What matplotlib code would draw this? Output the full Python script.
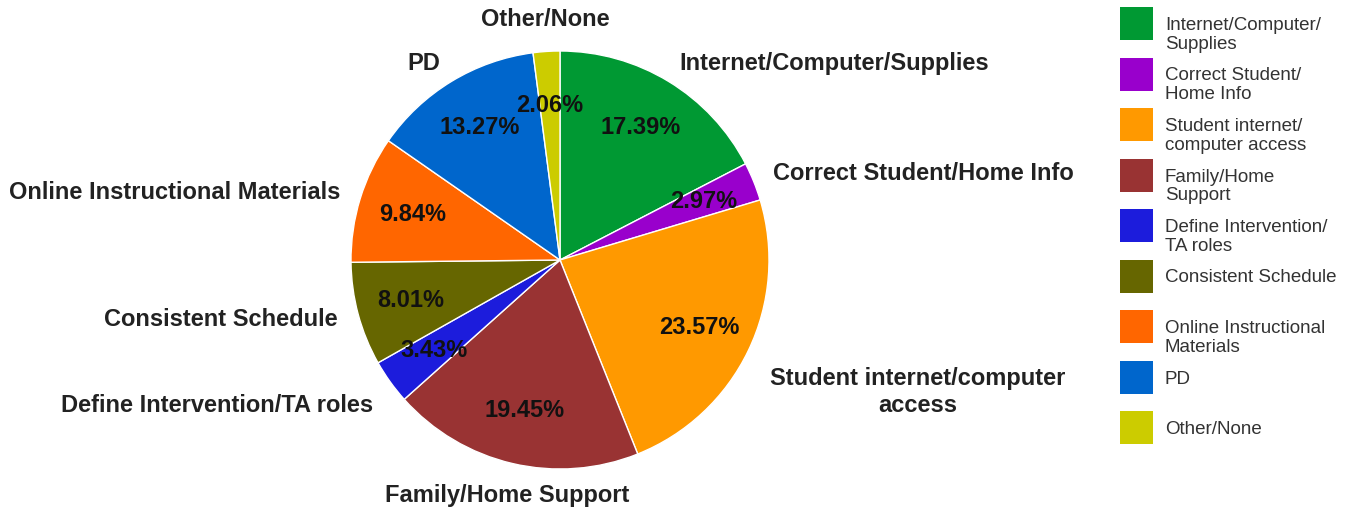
import numpy as np
import matplotlib.pyplot as plt
from matplotlib.patches import Rectangle

# slice data, clockwise from 12 o'clock
categories = ["Internet/Computer/Supplies", "Correct Student/Home Info",
              "Student internet/computer\naccess", "Family/Home Support",
              "Define Intervention/TA roles", "Consistent Schedule",
              "Online Instructional Materials", "PD", "Other/None"]
legend_labels = ["Internet/Computer/\nSupplies", "Correct Student/\nHome Info",
                 "Student internet/\ncomputer access", "Family/Home\nSupport",
                 "Define Intervention/\nTA roles", "Consistent Schedule",
                 "Online Instructional\nMaterials", "PD", "Other/None"]
shares = [17.39, 2.97, 23.57, 19.45, 3.43, 8.01, 9.84, 13.27, 2.06]
colors = ["#009933", "#9900cc", "#ff9900", "#993333", "#1c1cdc",
          "#666600", "#ff6600", "#0066cc", "#cccc00"]

plt.rcParams['font.family'] = ['Liberation Sans', 'DejaVu Sans']

W, H = 1351, 508
fig = plt.figure(figsize=(W / 100, H / 100), dpi=100)

# pie axes: centre (560, 260) px, radius ~209 px
cx, cy, r = 560, 260, 209
ax = fig.add_axes([(cx - r) / W, (H - cy - r) / H, 2 * r / W, 2 * r / H])
wedges, texts, autotexts = ax.pie(
    shares, labels=categories, colors=colors, startangle=90, counterclock=False,
    autopct='%.2f%%', pctdistance=0.74, labeldistance=1.1,
    wedgeprops=dict(edgecolor='white', linewidth=1),
    textprops=dict(fontsize=17, fontweight='bold', color='#222222'))
for t in autotexts:
    t.set_color('#111111')
ax.set_xlim(-1, 1)
ax.set_ylim(-1, 1)
ax.set_aspect('equal')

# nudge a few outer labels the way the original chart placed them
texts[8].set_ha('center'); texts[8].set_va('bottom')
texts[3].set_ha('center'); texts[3].set_va('top')
texts[4].set_va('top')
texts[2].set_ha('center'); texts[2].set_va('top')
px, py = texts[2].get_position()
texts[2].set_position((px + 0.72, py - 0.035))

# legend drawn by hand in pixel space
lax = fig.add_axes([0, 0, 1, 1])
lax.set_xlim(0, W)
lax.set_ylim(H, 0)
lax.axis('off')
for i, (lab, col) in enumerate(zip(legend_labels, colors)):
    top = 7 + i * 50.5
    lax.add_patch(Rectangle((1120, top), 33, 33, facecolor=col, edgecolor='none'))
    lax.text(1165, top + 10, lab, fontsize=13.5, color='#333333', va='top',
             ha='left', linespacing=1.15)

fig.savefig("out.png", dpi=100)
